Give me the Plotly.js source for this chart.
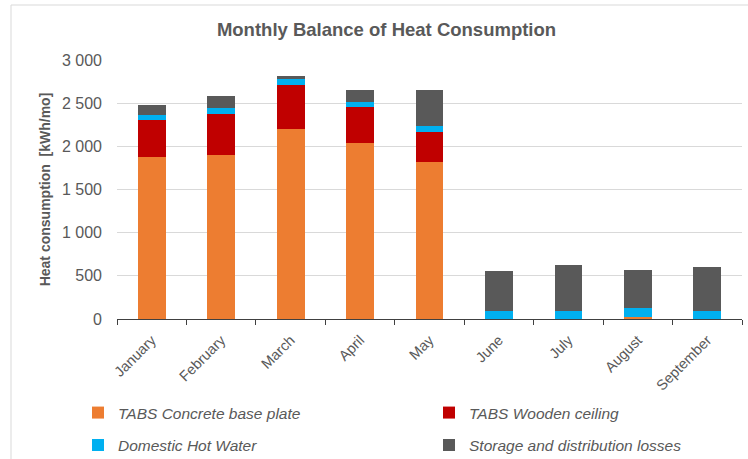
<!DOCTYPE html>
<html>
<head>
<meta charset="utf-8">
<script src="https://cdn.plot.ly/plotly-3.0.1.min.js"></script>
<style>html,body{margin:0;padding:0;background:#fff;}#chart{width:748px;height:459px;}</style>
</head>
<body>
<div id="chart"></div>
<script>
const months = ["January","February","March","April","May","June","July","August","September"];
const concrete = [1875, 1905, 2206, 2033, 1813, 0, 0, 20, 0];
const wooden   = [428, 475, 501, 420, 354, 0, 0, 0, 0];
const dhw      = [65, 65, 70, 58, 66, 89, 89, 107, 89];
const losses   = [108, 140, 42, 142, 417, 466, 536, 436, 513];
const seriesNames = ["TABS Concrete base plate", "TABS Wooden ceiling", "Domestic Hot Water", "Storage and distribution losses"];
const colors = ["#ED7D31", "#C00000", "#00B0F0", "#595959"];

const series = [concrete, wooden, dhw, losses];
const legendRefs = ["legend", "legend2", "legend3", "legend4"];
const data = series.map((vals, i) => ({
  type: "bar",
  x: months,
  y: vals,
  name: seriesNames[i],
  marker: {color: colors[i], line: {width: 0}},
  width: 0.4,
  legend: legendRefs[i],
  hoverinfo: "x+y+name"
}));

const FONT = "Liberation Sans, Arial, sans-serif";
const GRAY = "#595959";

function leg(xpx, ypx) {
  return {
    orientation: "h",
    xanchor: "left",
    yanchor: "middle",
    x: (xpx - 117) / 625,
    y: (319 - ypx) / 259,
    font: {family: FONT, size: 15.5, color: GRAY, style: "italic"},
    bgcolor: "rgba(0,0,0,0)"
  };
}

const layout = {
  width: 748,
  height: 459,
  margin: {l: 117, r: 6, t: 60, b: 140, autoexpand: false},
  paper_bgcolor: "#ffffff",
  plot_bgcolor: "#ffffff",
  barmode: "stack",
  separators: ". ",
  showlegend: true,
  title: {
    text: "<b>Monthly Balance of Heat Consumption</b>",
    font: {family: FONT, size: 18.5, color: GRAY},
    xref: "container", x: 386.5 / 748, xanchor: "center",
    yref: "container", y: 1 - 30/459, yanchor: "middle"
  },
  xaxis: {
    type: "category",
    automargin: false,
    tickangle: -45,
    tickfont: {family: FONT, size: 14.5, color: GRAY},
    showline: true, linecolor: "#404040", linewidth: 1,
    ticks: "outside", tickson: "boundaries", ticklen: 5, tickcolor: "#404040",
    ticklabelstandoff: 6,
    showgrid: false,
    fixedrange: true
  },
  yaxis: {
    automargin: false,
    range: [0, 3000],
    tickvals: [0, 500, 1000, 1500, 2000, 2500, 3000],
    tickformat: ",d",
    tickfont: {family: FONT, size: 16, color: GRAY},
    showgrid: true, gridcolor: "#D9D9D9", gridwidth: 1,
    zeroline: false, showline: false,
    ticks: "", ticklabelstandoff: 14,
    title: {
      text: "<b>Heat consumption  [kWh/mo]</b>",
      font: {family: FONT, size: 14, color: GRAY},
      standoff: 8
    },
    fixedrange: true
  },
  legend: leg(78, 413),
  legend2: leg(429, 413),
  legend3: leg(78, 445.5),
  legend4: leg(429, 445.5),
  shapes: [{
    type: "rect", xref: "paper", yref: "paper",
    x0: (11 - 117) / 625, x1: (760 - 117) / 625,
    y0: (319 - 470) / 259, y1: (319 - 5) / 259,
    line: {color: "#D9D9D9", width: 1}, fillcolor: "rgba(0,0,0,0)", layer: "below"
  }]
};

Plotly.newPlot("chart", data, layout, {displayModeBar: false, staticPlot: true});
</script>
</body>
</html>
